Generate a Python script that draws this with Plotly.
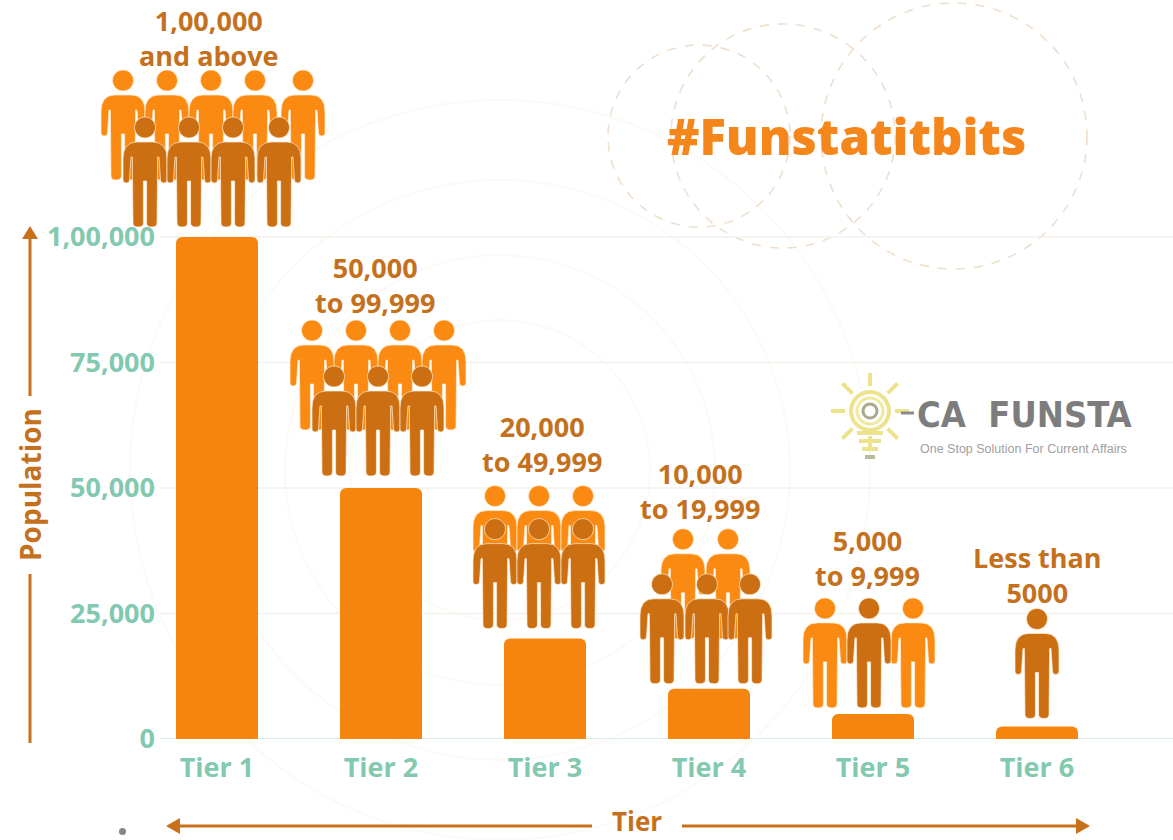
import math
import plotly.graph_objects as go

W, H = 1173, 840
PLOT_H = 739
tiers = ["Tier 1", "Tier 2", "Tier 3", "Tier 4", "Tier 5", "Tier 6"]
population = [100000, 50000, 20000, 10000, 5000, 2500]
y_ticks = [0, 25000, 50000, 75000, 100000]
y_tick_text = ["0", "25,000", "50,000", "75,000", "1,00,000"]
group_line1 = ["1,00,000", "50,000", "20,000", "10,000", "5,000", "Less than"]
group_line2 = ["and above", "to 99,999", "to 49,999", "to 19,999", "to 9,999", "5000"]

ORANGE = "#f5850f"
LIGHT = "#fa8a12"
DARK = "#cb6f12"
BROWN = "#c4701c"
TEAL = "#82c9b0"
ARROW = "#c9701a"
FONT = "Open Sans"

# pictogram placement: (bar index, px from bar centre, px above bar top, tone)
people = [
    (0, -94, 57, "l"), (0, -50, 57, "l"), (0, -6, 57, "l"), (0, 38, 57, "l"), (0, 86, 57, "l"),
    (0, -72, 10, "d"), (0, -28, 10, "d"), (0, 16, 10, "d"), (0, 62, 10, "d"),
    (1, -69, 58, "l"), (1, -25, 58, "l"), (1, 19, 58, "l"), (1, 63, 58, "l"),
    (1, -47, 12, "d"), (1, -3, 12, "d"), (1, 41, 12, "d"),
    (2, -50, 43, "l"), (2, -6, 43, "l"), (2, 38, 43, "l"),
    (2, -50, 10, "d"), (2, -6, 10, "d"), (2, 38, 10, "d"),
    (3, -26, 50, "l"), (3, 19, 50, "l"),
    (3, -47, 5, "d"), (3, -2, 5, "d"), (3, 41, 5, "d"),
    (4, -48, 6, "l"), (4, 40, 6, "l"), (4, -4, 6, "d"),
    (5, 0, 8, "d"),
]
# label placement: px offset of the label centre from the bar centre, px above bar top
label_dx = [-8, -6, -3, -9, -6, 0]
label_centre_up = [199, 203, 195, 198, 156, 151]


def px(x):
    return x / W


def py(y):
    return 1 - y / PLOT_H


def body_path(dx, up):
    pts = [
        ("M", [(-12, 4)]), ("Q", [(-12, 0), (-7, 0)]), ("Q", [(-1.6, 0), (-1.6, 4)]),
        ("L", [(-1.6, 46)]), ("L", [(1.6, 46)]), ("L", [(1.6, 4)]),
        ("Q", [(1.6, 0), (7, 0)]), ("Q", [(12, 0), (12, 4)]),
        ("L", [(12.6, 70)]), ("L", [(14, 70)]), ("L", [(15.5, 47)]),
        ("Q", [(15.5, 44), (18.7, 44)]), ("Q", [(22, 44), (22, 47)]),
        ("L", [(22, 68)]), ("Q", [(22, 85), (8, 85)]), ("L", [(-8, 85)]),
        ("Q", [(-22, 85), (-22, 68)]), ("L", [(-22, 47)]),
        ("Q", [(-22, 44), (-18.7, 44)]), ("Q", [(-15.5, 44), (-15.5, 47)]),
        ("L", [(-14, 70)]), ("L", [(-12.6, 70)]),
    ]
    s = ""
    for cmd, ps in pts:
        s += cmd + " ".join(f"{p[0] + dx},{p[1] + up}" for p in ps)
    return s + "Z"


def head_path(dx, up, r=10.5, cy=99.5):
    k = 0.5523 * r
    c = cy + up
    return (
        f"M{dx - r},{c}C{dx - r},{c + k} {dx - k},{c + r} {dx},{c + r}"
        f"C{dx + k},{c + r} {dx + r},{c + k} {dx + r},{c}"
        f"C{dx + r},{c - k} {dx + k},{c - r} {dx},{c - r}"
        f"C{dx - k},{c - r} {dx - r},{c - k} {dx - r},{c}Z"
    )


shapes = []

# faint concentric background rings and dashed rings
for r in (150, 215, 290, 370):
    cx, cy = 500, 470
    shapes.append(dict(type="circle", xref="paper", yref="paper", layer="below",
                       x0=px(cx - r), x1=px(cx + r), y0=py(cy + r), y1=py(cy - r),
                       line=dict(color="#fcfaf5", width=2)))
for cx, cy, r in ((699, 136, 91), (783, 136, 112), (954, 136, 133)):
    shapes.append(dict(type="circle", xref="paper", yref="paper", layer="below",
                       x0=px(cx - r), x1=px(cx + r), y0=py(cy + r), y1=py(cy - r),
                       line=dict(color="#eedfcf", width=1.6, dash="dash")))

# gridlines
for t in y_ticks:
    shapes.append(dict(type="line", xref="paper", yref="y", layer="below",
                       x0=px(160), x1=1, y0=t, y1=t,
                       line=dict(color="#cfe7df" if t == 0 else "#f3f1ec", width=1.5)))

# pictograms
for idx, dx, up, tone in people:
    col = LIGHT if tone == "l" else DARK
    for path in (body_path(dx, up), head_path(dx, up)):
        shapes.append(dict(type="path", xref="x", yref="y", xsizemode="pixel", ysizemode="pixel",
                           xanchor=idx, yanchor=population[idx], path=path, fillcolor=col,
                           layer="above", line=dict(color="#ffeed6", width=0.7)))

# axis arrows
for a, b, c, d in ((30, 236, 30, 396), (30, 574, 30, 743), (170, 826, 592, 826), (682, 826, 1084, 826)):
    shapes.append(dict(type="line", xref="paper", yref="paper", x0=px(a), x1=px(c), y0=py(b), y1=py(d),
                       line=dict(color=ARROW, width=3)))
for tri in (((30, 226), (22, 239), (38, 239)), ((166, 826), (180, 818), (180, 834)), ((1090, 826), (1076, 818), (1076, 834))):
    path = "M" + "L".join(f"{px(x)},{py(y)}" for x, y in tri) + "Z"
    shapes.append(dict(type="path", xref="paper", yref="paper", path=path, fillcolor=ARROW, line=dict(width=0)))

# stray dot
shapes.append(dict(type="circle", xref="paper", yref="paper", x0=px(119), x1=px(126), y0=py(835), y1=py(828),
                   fillcolor="#85858a", line=dict(width=0)))

# logo
lx, ly = 870, 411
YEL = "#ece38c"
for i in range(8):
    if i == 6:
        continue
    ang = math.radians(i * 45)
    shapes.append(dict(type="line", xref="paper", yref="paper",
                       x0=px(lx + 25 * math.cos(ang)), y0=py(ly + 25 * math.sin(ang)),
                       x1=px(lx + 39 * math.cos(ang)), y1=py(ly + 39 * math.sin(ang)),
                       line=dict(color=YEL, width=4)))
shapes.append(dict(type="line", xref="paper", yref="paper", x0=px(lx), x1=px(lx), y0=py(373), y1=py(386),
                   line=dict(color=YEL, width=4)))
for r, col, w in ((19, YEL, 4), (13, "#f1e99b", 3), (7, "#a9a98c", 3)):
    shapes.append(dict(type="circle", xref="paper", yref="paper",
                       x0=px(lx - r), x1=px(lx + r), y0=py(ly + r), y1=py(ly - r),
                       line=dict(color=col, width=w)))
for yy, half in ((433, 13), (441, 11), (449, 8), (457, 5)):
    shapes.append(dict(type="line", xref="paper", yref="paper", x0=px(lx - half), x1=px(lx + half),
                       y0=py(yy), y1=py(yy), line=dict(color=YEL if yy < 455 else "#b9b9a0", width=4)))
shapes.append(dict(type="line", xref="paper", yref="paper", x0=px(901), x1=px(914), y0=py(413), y1=py(413),
                   line=dict(color="#8a8a8a", width=3)))

annotations = []
for i, (a, b) in enumerate(zip(group_line1, group_line2)):
    annotations.append(dict(xref="x", yref="y", x=i, y=population[i], xshift=label_dx[i], yshift=label_centre_up[i],
                            text=a + "<br>" + b, showarrow=False, xanchor="center", yanchor="middle",
                            font=dict(family=FONT, size=27, color=BROWN, weight=700)))


def note(x, y, text, **kw):
    return dict(xref="paper", yref="paper", x=px(x), y=py(y), text=text, showarrow=False,
                xanchor="center", yanchor="middle", **kw)


annotations += [
    note(846, 136, "#Funstatitbits", font=dict(family=FONT, size=49, color="#f4861b", weight=800)),
    note(30, 485, "Population", textangle=-90, font=dict(family=FONT, size=28, color=BROWN, weight=700)),
    note(637, 821, "Tier", font=dict(family=FONT, size=26, color=BROWN, weight=700)),
    note(1024, 414, "CA  FUNSTA", font=dict(family="DejaVu Sans Condensed", size=36, color="#7d7d7d", weight=700)),
    note(1023, 449, "One Stop Solution For Current Affairs", font=dict(family="Liberation Sans", size=12.5, color="#a0a0a0")),
]

fig = go.Figure(go.Bar(x=list(range(len(tiers))), y=population, width=0.5,
                       marker=dict(color=ORANGE, cornerradius=6, line=dict(width=0)),
                       hoverinfo="skip"))
fig.update_layout(
    width=W, height=H, autosize=False,
    margin=dict(l=0, r=0, t=0, b=H - PLOT_H),
    paper_bgcolor="white", plot_bgcolor="rgba(0,0,0,0)",
    showlegend=False, shapes=shapes, annotations=annotations,
    xaxis=dict(range=[-217 / 164, (W - 217) / 164], tickvals=list(range(len(tiers))), ticktext=tiers,
               showgrid=False, zeroline=False, showline=False, ticks="outside", ticklen=5,
               tickcolor="rgba(0,0,0,0)", tickfont=dict(family=FONT, size=27, color=TEAL, weight=700)),
    yaxis=dict(range=[0, PLOT_H / 502 * 100000], tickvals=y_ticks, ticktext=y_tick_text,
               anchor="free", position=px(155), side="left", showgrid=False, zeroline=False,
               showline=False, ticks="", tickfont=dict(family=FONT, size=27, color=TEAL, weight=700)),
)
fig.write_html("out.html", config=dict(displayModeBar=False),
               post_script="document.body.style.margin='0';document.documentElement.style.overflow='hidden';")
